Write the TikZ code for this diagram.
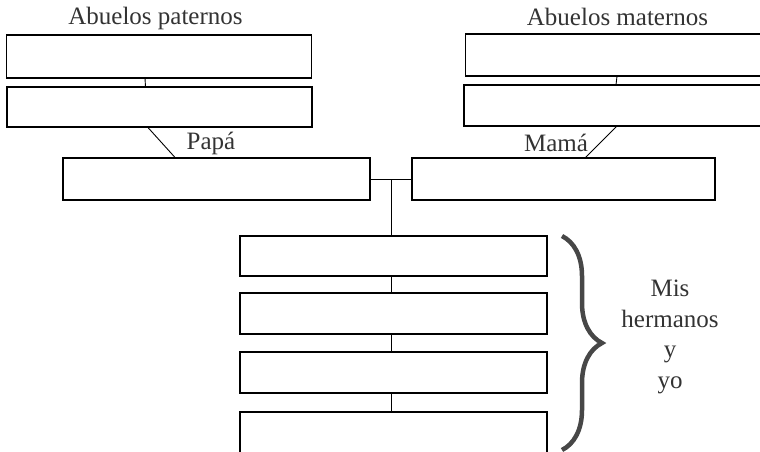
\documentclass[tikz,border=0pt]{standalone}
\usepackage{fontspec}
\setmainfont{Liberation Serif}
\usetikzlibrary{decorations.pathreplacing}
\definecolor{inkgray}{HTML}{333333}
\tikzset{
  box/.style={draw=black, line width=1.8pt, inner sep=0pt, outer sep=0pt, minimum width=305pt, minimum height=41pt},
  link/.style={draw=black, line width=0.9pt},
  caption/.style={text=inkgray, font=\fontsize{25}{30.5}\selectfont, inner sep=0pt, align=center},
  bracket/.style={draw=inkgray!90, line width=4.5pt, decorate, decoration={brace, amplitude=40pt}}
}
\begin{document}
\begin{tikzpicture}[x=1pt, y=-1pt]
\useasboundingbox (0,0) rectangle (760,451);
\node[caption] (pat-label) at (155.5,18) {Abuelos paternos};
\node[caption] (mat-label) at (617.5,17) {Abuelos maternos};
\node[box, minimum height=43pt] (pat1) at (159,56.5) {};
\node[box, minimum height=40pt] (pat2) at (159.5,107) {};
\node[box, minimum height=42pt] (mat1) at (618,55) {};
\node[box, minimum width=306pt] (mat2) at (617,105.5) {};
\draw[link] ([xshift=-14pt]pat1.south) -- ([xshift=-14pt]pat2.north);
\draw[link] ([xshift=-1pt]mat1.south) -- ([xshift=-1pt]mat2.north);
\node[box, minimum width=307pt, minimum height=42pt] (papa) at (216.5,179) {};
\node[box, minimum width=303pt, minimum height=42pt] (mama) at (563.5,179) {};
\draw[link] ([xshift=-12pt]pat2.south) -- ([xshift=-41pt]papa.north);
\draw[link] (mat2.south) -- ([xshift=21.5pt]mama.north);
\node[caption] (papa-label) at (211,143) {Papá};
\node[caption] (mama-label) at (556,143) {Mamá};
\draw[link] (papa.east) -- (mama.west);
\coordinate (union) at (391,179);
\node[box, minimum width=307pt, minimum height=40pt] (kid1) at (393.5,256) {};
\node[box, minimum width=307pt, minimum height=41pt] (kid2) at (393.5,313.5) {};
\node[box, minimum width=307pt, minimum height=41pt] (kid3) at (393.5,372.5) {};
\node[box, minimum width=307pt, minimum height=41pt] (kid4) at (393.5,432.5) {};
\draw[link] (union) -- (union |- kid1.north);
\draw[link] (union |- kid1.south) -- (union |- kid2.north);
\draw[link] (union |- kid2.south) -- (union |- kid3.north);
\draw[link] (union |- kid3.south) -- (union |- kid4.north);
\coordinate (brace-top) at (562,236);
\coordinate (brace-bottom) at (562,450);
\draw[bracket] (brace-top) -- (brace-bottom);
\node[caption] (siblings) at (670,337) {Mis\\hermanos\\y\\yo};
\end{tikzpicture}
\end{document}
